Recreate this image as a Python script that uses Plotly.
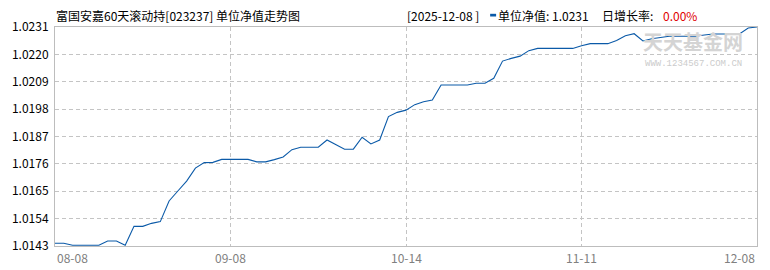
import plotly.graph_objects as go

# ---- data ----
nav = [
    1.01441, 1.01441, 1.01433, 1.01433, 1.01433, 1.01433, 1.01450, 1.01450, 1.01433, 1.01509,
    1.01509, 1.01521, 1.01528, 1.01611, 1.01651, 1.01691, 1.01743, 1.01765, 1.01766, 1.01778,
    1.01778, 1.01778, 1.01778, 1.01768, 1.01768, 1.01777, 1.01788, 1.01817, 1.01827, 1.01827,
    1.01827, 1.01856, 1.01836, 1.01819, 1.01819, 1.01867, 1.01840, 1.01856, 1.01950, 1.01967,
    1.01976, 1.01998, 1.02010, 1.02017, 1.02077, 1.02077, 1.02077, 1.02077, 1.02084, 1.02084,
    1.02104, 1.02173, 1.02184, 1.02193, 1.02215, 1.02224, 1.02224, 1.02224, 1.02224, 1.02224,
    1.02235, 1.02243, 1.02243, 1.02243, 1.02256, 1.02275, 1.02283, 1.02254, 1.02263, 1.02269,
    1.02273, 1.02273, 1.02273, 1.02273, 1.02278, 1.02282, 1.02282, 1.02282, 1.02282, 1.02306,
    1.02310,
]
x_labels = ["08-08", "09-08", "10-14", "11-11", "12-08"]
y_ticks = [1.0143, 1.0154, 1.0165, 1.0176, 1.0187, 1.0198, 1.0209, 1.0220, 1.0231]
title_text = "富国安嘉60天滚动持[023237] 单位净值走势图"
date_text = "[2025-12-08 ]"
nav_text = "单位净值: 1.0231"
rate_label = "日增长率: "
rate_text = "0.00%"

W, H = 770, 270
L, R, T, B = 53, 12, 27, 24
PW, PH = W - L - R, H - T - B

FONT = "Noto Sans CJK SC, Liberation Sans, sans-serif"
LINE = "#0b5aa8"
GRID = "#c4c4c4"

n = len(nav)
xs = list(range(n))
x_tick_pos = [i * (n - 1) / (len(x_labels) - 1) for i in range(len(x_labels))]

fig = go.Figure()
fig.add_trace(go.Scatter(x=xs, y=nav, mode="lines",
                         line=dict(color=LINE, width=1.1), hoverinfo="skip",
                         showlegend=False))


def px(xpix):
    return (xpix - L) / PW


def py(ypix):
    return (H - B - ypix) / PH


annotations = []
# title
annotations.append(dict(text=title_text, xref="paper", yref="paper", x=px(52), y=py(15),
                        xanchor="left", yanchor="middle", showarrow=False,
                        font=dict(family=FONT, size=12, color="#000000")))
annotations.append(dict(text=date_text, xref="paper", yref="paper", x=px(404), y=py(15),
                        xanchor="left", yanchor="middle", showarrow=False,
                        font=dict(family=FONT, size=12, color="#000000")))
annotations.append(dict(text=nav_text, xref="paper", yref="paper", x=px(496), y=py(15),
                        xanchor="left", yanchor="middle", showarrow=False,
                        font=dict(family=FONT, size=12, color="#000000")))
annotations.append(dict(text=rate_label, xref="paper", yref="paper", x=px(600), y=py(15),
                        xanchor="left", yanchor="middle", showarrow=False,
                        font=dict(family=FONT, size=12, color="#000000")))
annotations.append(dict(text=rate_text, xref="paper", yref="paper", x=px(662), y=py(15),
                        xanchor="left", yanchor="middle", showarrow=False,
                        font=dict(family=FONT, size=12, color="#e00000")))
# watermark
annotations.append(dict(text="<b>天天基金网</b>", xref="paper", yref="paper", x=px(694), y=py(57),
                        xanchor="center", yanchor="bottom", showarrow=False, borderpad=0,
                        font=dict(family=FONT, size=20, color="#d4d4d4")))
annotations.append(dict(text="WWW.1234567.COM.CN", xref="paper", yref="paper", x=px(694), y=py(58),
                        xanchor="center", yanchor="top", showarrow=False, borderpad=0,
                        font=dict(family="Liberation Mono, monospace", size=9, color="#cccccc")))
# x tick labels
for i, (pos, lab) in enumerate(zip(x_tick_pos, x_labels)):
    anchor = "left" if i == 0 else ("right" if i == len(x_labels) - 1 else "center")
    annotations.append(dict(text=lab, xref="x", yref="paper", x=pos, y=py(257),
                            xanchor=anchor, yanchor="middle", showarrow=False,
                            font=dict(family=FONT, size=12, color="#808080")))

shapes = [dict(type="rect", xref="paper", yref="paper",
               x0=px(490), x1=px(496), y0=py(16.5), y1=py(13.8),
               line=dict(width=0), fillcolor=LINE)]

fig.update_layout(
    width=W, height=H,
    margin=dict(l=L, r=R, t=T, b=B, pad=0),
    paper_bgcolor="white", plot_bgcolor="white",
    annotations=annotations, shapes=shapes,
    font=dict(family=FONT, size=12, color="#000000"),
)
fig.update_xaxes(range=[0, n - 1], tickvals=x_tick_pos, showticklabels=False,
                 showgrid=True, gridcolor=GRID, griddash="4px,3px", gridwidth=1,
                 showline=True, linecolor="#bdbdbd", linewidth=1, mirror=True,
                 zeroline=False, ticks="")
fig.update_yaxes(range=[y_ticks[0], y_ticks[-1]], tickvals=y_ticks,
                 ticktext=[f"{v:.4f}" for v in y_ticks],
                 tickfont=dict(family=FONT, size=12, color="#000000"),
                 showgrid=True, gridcolor=GRID, griddash="4px,3px", gridwidth=1,
                 showline=True, linecolor="#bdbdbd", linewidth=1, mirror=True,
                 zeroline=False, ticks="", ticklabelstandoff=3)

fig.write_html("out.html")
